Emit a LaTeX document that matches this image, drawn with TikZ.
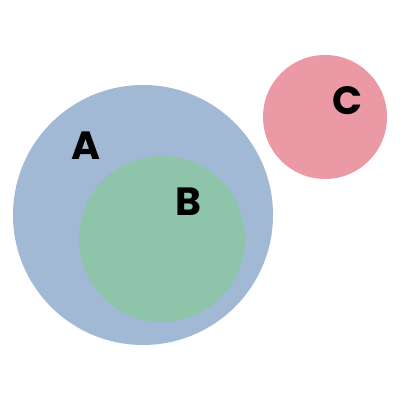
\documentclass[tikz,border=0pt]{standalone}
\usepackage{fontspec}
\setmainfont{Poppins}
\definecolor{setA}{HTML}{A1B9D4}
\definecolor{setB}{HTML}{8DC4AA}
\definecolor{setC}{HTML}{EB9AA5}
\begin{document}
\begin{tikzpicture}[line cap=round, line join=round]

% ----------------------------
% PARAMETERS
% ----------------------------
\def\rA{3.25}     % radius of A
\def\rB{2.075}    % radius of B
\def\rC{1.55}     % radius of C

\useasboundingbox (0,0) rectangle (10,10);

\tikzset{setlabel/.style={font=\fontsize{28}{28}\selectfont\bfseries, inner sep=0pt, text=black}}

% ----------------------------
% DISKS
% ----------------------------
\coordinate (A0) at (3.575,4.625);
\coordinate (B0) at (4.05,4.025);
\coordinate (C0) at (8.125,7.075);

\fill[setA] (A0) circle (\rA);
\fill[setB] (B0) circle (\rB);
\fill[setC] (C0) circle (\rC);

% ----------------------------
% LABELS
% ----------------------------
\node[setlabel] (labA) at (2.14,6.35) {A};
\node[setlabel] (labB) at (4.7,4.95) {B};
\node[setlabel] (labC) at (8.675,7.475) {C};

\end{tikzpicture}
\end{document}
